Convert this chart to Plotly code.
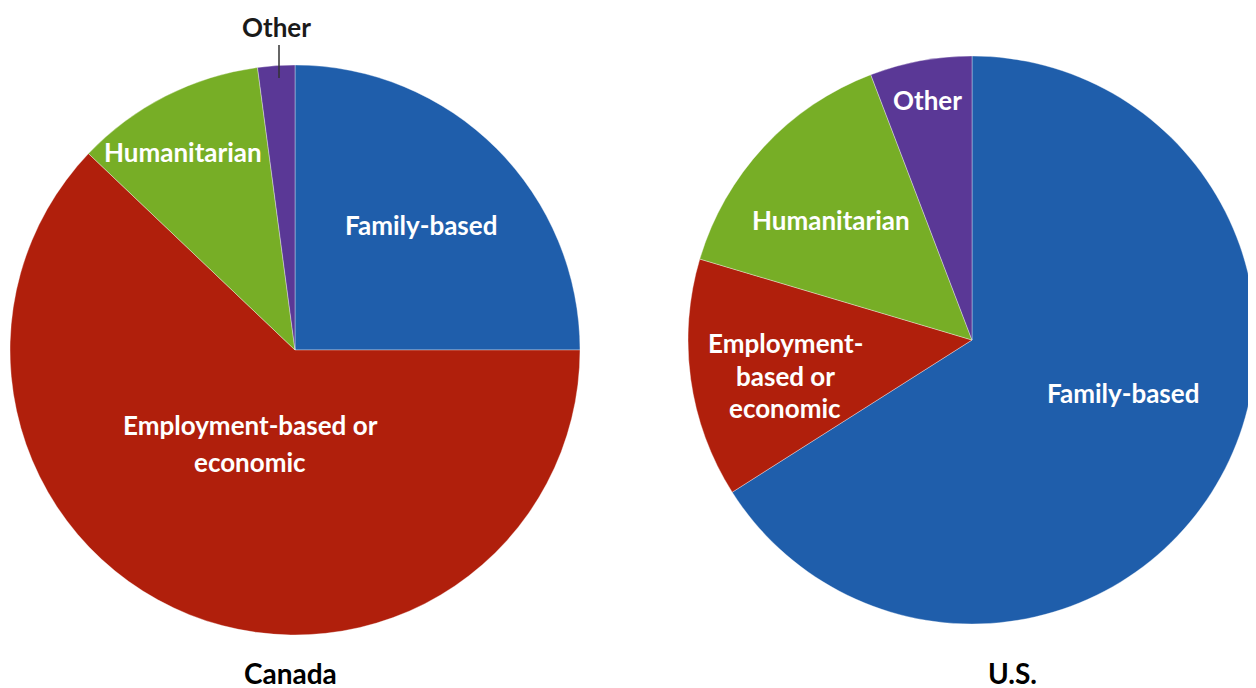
import plotly.graph_objects as go

W, H = 1256, 688
OFF = 8  # page body margin in the browser

categories = ["Family-based", "Employment-based or economic", "Humanitarian", "Other"]
canada_values = [25.0, 62.1, 10.8, 2.1]
us_values = [66.0, 13.6, 14.6, 5.8]
colors = ["#1F5EAB", "#B01F0C", "#77AE26", "#5A3896"]
titles = ["Canada", "U.S."]

canada_label_lines = [["Family-based"], ["Employment-based or", "economic"], ["Humanitarian"], ["Other"]]
us_label_lines = [["Family-based"], ["Employment-", "based or", "economic"], ["Humanitarian"], ["Other"]]


def px(x, y):
    return (x - OFF) / W, 1 - (y - OFF) / H


def dom(x0, x1, y0, y1):
    a, b = px(x0, y1)
    c, d = px(x1, y0)
    return dict(x=[max(a, 0), min(c, 1)], y=[max(b, 0), min(d, 1)])


fig = go.Figure()
fig.add_trace(go.Pie(
    labels=categories, values=canada_values, sort=False, direction="clockwise", rotation=0,
    marker=dict(colors=colors, line=dict(color="rgba(255,255,255,0.35)", width=1)),
    textinfo="none", hoverinfo="label+percent", showlegend=False,
    domain=dom(10, 580, 65, 635),
))
fig.add_trace(go.Pie(
    labels=categories, values=us_values, sort=False, direction="clockwise", rotation=0,
    marker=dict(colors=colors, line=dict(color="rgba(255,255,255,0.35)", width=1)),
    textinfo="none", hoverinfo="label+percent", showlegend=False,
    domain=dom(688, 1256, 56, 624),
))

FS = 26
font_w = dict(family="Lato", size=FS, color="white")
font_d = dict(family="Lato", size=FS, color="#1a1a1a")

canada_pos = [[(421, 225)], [(250, 425), (250, 462)], [(183, 152)], [(276, 27)]]
us_pos = [[(1123, 393)], [(785, 343), (785, 376), (785, 408)], [(831, 220)], [(927, 100)]]

ann = []
for lines_list, pos_list, is_canada in [(canada_label_lines, canada_pos, True), (us_label_lines, us_pos, False)]:
    for i, (lines, poss) in enumerate(zip(lines_list, pos_list)):
        for t, (x, y) in zip(lines, poss):
            xx, yy = px(x, y)
            f = font_d if (is_canada and i == 3) else font_w
            ann.append(dict(x=xx, y=yy, xref="paper", yref="paper", text="<b>%s</b>" % t,
                            showarrow=False, font=f, xanchor="center", yanchor="middle"))

for t, (x, y) in zip(titles, [(290, 673), (1012, 673)]):
    xx, yy = px(x, y)
    ann.append(dict(x=xx, y=yy, xref="paper", yref="paper", text="<b>%s</b>" % t,
                    showarrow=False, font=dict(family="Lato", size=28, color="black"),
                    xanchor="center", yanchor="middle"))

x0, y0 = px(279, 45)
x1, y1 = px(279, 78)
fig.update_layout(
    width=W, height=H, margin=dict(l=0, r=0, t=0, b=0),
    paper_bgcolor="white", plot_bgcolor="white",
    annotations=ann,
    shapes=[dict(type="line", xref="paper", yref="paper", x0=x0, y0=y0, x1=x1, y1=y1,
                 line=dict(color="#333333", width=1.5))],
)
fig.write_html("out.html")
